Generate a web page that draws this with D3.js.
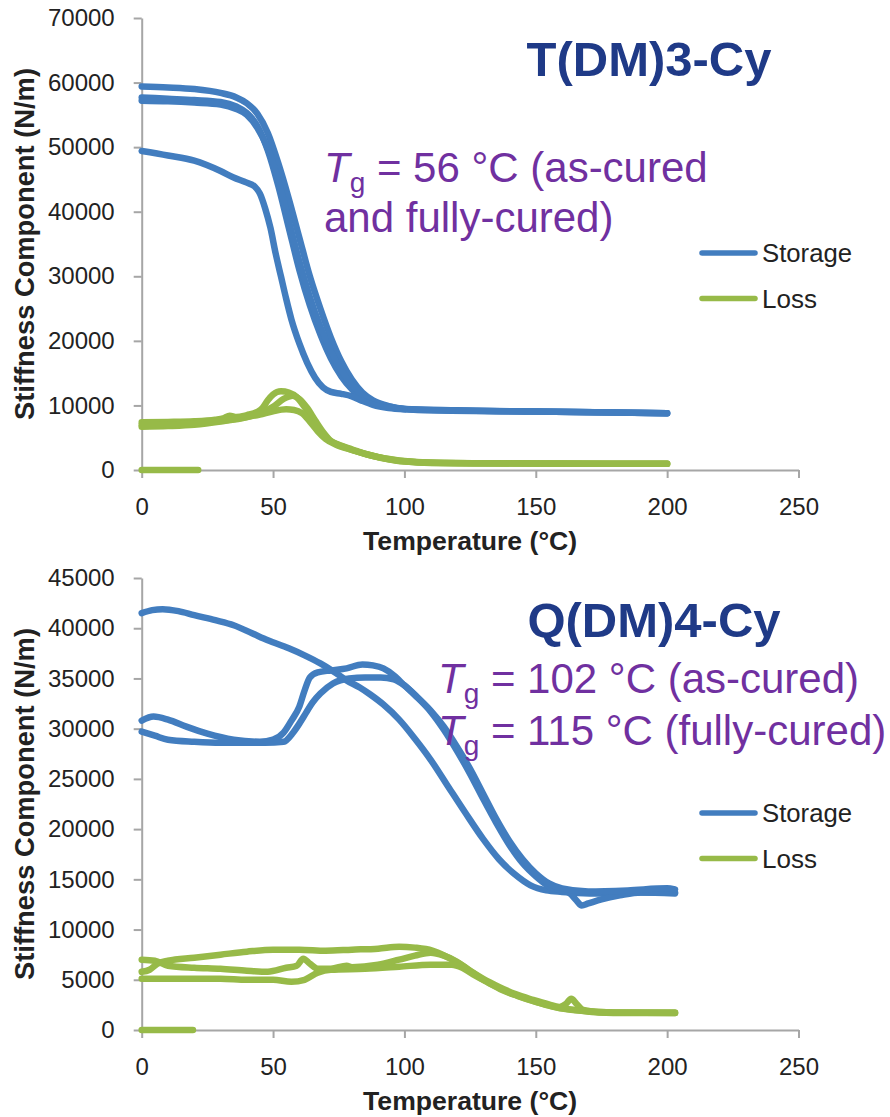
<!DOCTYPE html>
<html>
<head>
<meta charset="utf-8">
<script src="https://cdn.jsdelivr.net/npm/d3@7"></script>
<style>
  html, body { margin: 0; padding: 0; background: #fff; }
  svg { display: block; font-family: "Liberation Sans", Arial, sans-serif; }
</style>
</head>
<body>
<svg id="chart" width="890" height="1117"></svg>
<script>
// ---- Data -------------------------------------------------------------
// Temperature axis (°C) shared by both panels
const tempTicks = [0, 50, 100, 150, 200, 250];

// T(DM)3-Cy panel
const tdm3Ticks = [0, 10000, 20000, 30000, 40000, 50000, 60000, 70000];
const tdm3Storage = [
  [[0,59400],[10,59250],[20,59000],[30,58400],[36,57700],[40,56800],[44,55200],[48,52200],[52,47500],[56,42000],[60,36000],[64,30000],[68,25000],[72,20500],[76,16800],[80,14000],[84,12000],[88,10800],[94,9900],[100,9450],[120,9250],[150,9050],[200,8800]],
  [[0,57700],[10,57500],[20,57300],[30,57000],[36,56300],[40,55300],[44,53300],[48,49500],[52,44000],[56,37500],[60,31000],[64,25500],[68,21000],[72,17300],[76,14500],[80,12500],[85,10800],[90,10000],[96,9600],[105,9300],[150,9050],[200,8800]],
  [[0,57200],[10,57100],[20,56900],[30,56600],[36,55900],[40,55000],[44,53000],[48,49800],[52,44800],[56,38600],[60,32300],[64,26800],[68,22200],[72,18400],[76,15400],[80,13200],[85,11300],[90,10300],[96,9700],[105,9350],[150,9050],[200,8800]],
  [[0,49400],[10,48700],[20,47900],[30,46300],[35,45300],[40,44500],[43,43900],[45,42800],[47,40500],[49,37500],[51,33500],[53,30000],[55,26500],[57,23300],[60,19600],[63,16600],[66,14300],[69,12800],[72,12100],[76,11800],[80,11400],[84,10700],[88,10100],[94,9600],[100,9400]]
];
const tdm3Loss = [
  [[0,7400],[10,7450],[20,7550],[28,7800],[31,8000],[33.5,8400],[36,8200],[40,8500],[44,9000],[46,9600],[48,10800],[50,11700],[53,12200],[56,12000],[59,11300],[61,10300],[65,8000],[68,6200],[71.5,4600],[75,3900],[80,3200],[85,2500],[90,2000],[96,1600],[100,1400],[109,1150],[130,1050],[160,1000],[200,950]],
  [[0,6700],[10,6800],[20,7000],[30,7500],[40,8200],[45,8800],[50,9800],[54,11000],[57.5,11500],[60,11000],[63,9600],[66,7700],[69,5900],[72,4500],[76,3700],[80,3100],[85,2500],[90,2000],[96,1550],[100,1350],[110,1100],[150,1000],[200,950]],
  [[0,7000],[10,7050],[20,7200],[30,7600],[40,8200],[45,8600],[50,9100],[55,9400],[58,9300],[61,8800],[64,7500],[67,6000],[70,4800],[74,3900],[80,3100],[86,2400],[92,1800],[100,1300],[120,1050],[200,950]],
  [[0,0],[21.5,0]]
];

// Q(DM)4-Cy panel
const qdm4Ticks = [0, 5000, 10000, 15000, 20000, 25000, 30000, 35000, 40000, 45000];
const qdm4Storage = [
  [[0,41500],[4,41800],[8,41900],[14,41700],[20,41300],[28,40800],[35,40300],[42,39500],[48,38800],[56,38000],[62,37300],[68,36500],[73,35700],[78,34800],[83,34100],[87,33400],[92,32400],[98,30900],[104,29000],[110,26900],[116,24500],[123,21700],[130,19000],[136,17000],[142,15500],[148,14400],[154,13900],[160,13750],[166,13650],[175,13600],[190,13700],[203,13600]],
  [[0,30800],[4.5,31200],[10,30900],[17,30200],[25,29500],[35,28900],[45,28700],[50,28900],[54,29600],[57,30800],[60,32200],[62,33800],[64,35100],[67,35600],[72,35800],[78,36000],[84,36400],[88,36300],[92,36000],[96,35300],[100,34300],[105,33100],[110,31700],[115,29900],[120,27800],[125,25500],[130,23000],[135,20600],[140,18400],[145,16600],[150,15300],[155,14300],[160,13900],[163,13600],[165.5,12900],[167.5,12400],[170,12600],[175,13000],[182,13400],[190,13700],[203,13700]],
  [[0,29700],[5,29300],[10,28900],[20,28700],[30,28600],[40,28600],[47,28600],[54,28700],[57.6,29600],[60,30500],[62.6,31600],[65,32600],[68,33500],[72.8,34500],[79,35000],[85,35100],[91,35100],[96,34900],[100,34300],[105,33100],[110,31800],[115,30200],[120,28200],[125,26000],[130,23500],[135,21000],[140,18800],[145,17000],[150,15600],[155,14600],[160,14100],[170,13800],[185,13900],[200,14100],[203,14000]]
];
const qdm4Loss = [
  [[0,5800],[3,6000],[6,6600],[10,6900],[20,7200],[30,7500],[40,7800],[50,8000],[60,8000],[70,7900],[80,8000],[90,8100],[98,8300],[104,8200],[110.6,7900],[116,7300],[121,6600],[126,5700],[130,5000],[136,4200],[142,3500],[149,2900],[155,2450],[160,2150],[165,2000],[174,1750],[185,1700],[203,1700]],
  [[0,7000],[5,6900],[10,6400],[20,6200],[30,6100],[40,5900],[48,5800],[55,6200],[59,6400],[61.5,7100],[64,6600],[67,6100],[72,6100],[78,6400],[80,6250],[90,6500],[98,7000],[104,7400],[110,7700],[115,7400],[120,6800],[125,5900],[130,5100],[136,4300],[142,3600],[149,3000],[155,2550],[159,2300],[161.5,2600],[163.5,3100],[165.5,2600],[168,2000],[174,1800],[185,1750],[203,1750]],
  [[0,5100],[10,5100],[20,5100],[30,5100],[40,5000],[50,5000],[57,4800],[62,5000],[67,5700],[72,6000],[85,6100],[98,6300],[110,6500],[118,6500],[122,6200],[127,5400],[132,4700],[137,4000],[143,3400],[150,2800],[156,2350],[162,2050],[170,1850],[180,1750],[203,1700]],
  [[0,0],[19.5,0]]
];

const seriesNames = ["Storage", "Loss"];

// ---- Styling ----------------------------------------------------------
const BLUE = "#427DBF", GREEN = "#97BA48";
const AXIS = "#A6A6A6", TEXT = "#222222";
const TITLE = "#1F3A87", NOTE = "#7030A0";
const legendWidths = [90, 55];

const svg = d3.select("#chart");
const x = d3.scaleLinear().domain([0, 250]).range([141.7, 798.5]);

const panels = [
  {
    title: "T(DM)3-Cy", titleX: 649, titleY: 76,
    yMax: 70000, yTop: 18, yBottom: 470, yTicks: tdm3Ticks,
    storage: tdm3Storage, loss: tdm3Loss,
    notes: [
      { x: 324, y: 182, parts: [["T","i"],["g","sub"],[" = 56 °C (as-cured",""]] },
      { x: 324, y: 232, parts: [["and fully-cured)",""]] }
    ],
    legendY: 253
  },
  {
    title: "Q(DM)4-Cy", titleX: 654, titleY: 637,
    yMax: 45000, yTop: 578, yBottom: 1030, yTicks: qdm4Ticks,
    storage: qdm4Storage, loss: qdm4Loss,
    notes: [
      { x: 438, y: 693, parts: [["T","i"],["g","sub"],[" = 102 °C (as-cured)",""]] },
      { x: 438, y: 745, parts: [["T","i"],["g","sub"],[" = 115 °C (fully-cured)",""]] }
    ],
    legendY: 813
  }
];

panels.forEach(p => {
  const y = d3.scaleLinear().domain([0, p.yMax]).range([p.yBottom, p.yTop]);
  const g = svg.append("g");

  // Axes
  const yAxis = d3.axisLeft(y).tickValues(p.yTicks).tickSize(8).tickSizeOuter(0)
    .tickPadding(19).tickFormat(d3.format("d"));
  const xAxis = d3.axisBottom(x).tickValues(tempTicks).tickSize(8).tickSizeOuter(0)
    .tickPadding(20).tickFormat(d3.format("d"));

  const ya = g.append("g").attr("transform", `translate(${x(0)},0)`).call(yAxis);
  const xa = g.append("g").attr("transform", `translate(0,${p.yBottom})`).call(xAxis);
  [ya, xa].forEach(a => {
    a.select(".domain").attr("stroke", AXIS).attr("stroke-width", 2);
    a.selectAll(".tick line").attr("stroke", AXIS).attr("stroke-width", 2);
    a.selectAll(".tick text").attr("fill", TEXT)
      .style("font-size", "24px").style("font-family", "'Liberation Sans', Arial, sans-serif");
  });

  // Axis titles
  g.append("text")
    .attr("x", (x(0) + x(250)) / 2).attr("y", p.yBottom + 80)
    .attr("text-anchor", "middle").attr("fill", TEXT)
    .attr("textLength", 214).attr("lengthAdjust", "spacingAndGlyphs")
    .style("font-size", "26px").style("font-weight", "bold")
    .text("Temperature (°C)");
  g.append("text")
    .attr("transform", `translate(34,${(p.yTop + p.yBottom) / 2}) rotate(-90)`)
    .attr("text-anchor", "middle").attr("fill", TEXT)
    .attr("textLength", 352).attr("lengthAdjust", "spacingAndGlyphs")
    .style("font-size", "27px").style("font-weight", "bold")
    .text("Stiffness Component (N/m)");

  // Curves
  const line = d3.line().x(d => x(d[0])).y(d => y(d[1])).curve(d3.curveMonotoneX);
  const drawSet = (sets, color) => g.append("g").selectAll("path").data(sets).join("path")
    .attr("d", line).attr("fill", "none").attr("stroke", color)
    .attr("stroke-width", 6.5).attr("stroke-linecap", "round").attr("stroke-linejoin", "round");
  drawSet(p.storage, BLUE);
  drawSet(p.loss, GREEN);

  // Panel title
  g.append("text").attr("x", p.titleX).attr("y", p.titleY)
    .attr("text-anchor", "middle").attr("fill", TITLE)
    .style("font-size", "49px").style("font-weight", "bold")
    .text(p.title);

  // Glass-transition notes
  p.notes.forEach(n => {
    const t = g.append("text").attr("x", n.x).attr("y", n.y).attr("fill", NOTE)
      .style("font-size", "42px");
    n.parts.forEach(([s, kind]) => {
      const ts = t.append("tspan").text(s);
      if (kind === "i") ts.style("font-style", "italic");
      if (kind === "sub") ts.attr("dy", 10).style("font-size", "28px");
      if (kind === "" && n.parts.length > 1) ts.attr("dy", -10);
    });
  });

  // Legend
  const lg = g.append("g");
  seriesNames.forEach((name, i) => {
    const ly = p.legendY + i * 45.5;
    lg.append("line").attr("x1", 702).attr("x2", 755).attr("y1", ly).attr("y2", ly)
      .attr("stroke", i === 0 ? BLUE : GREEN).attr("stroke-width", 5.5)
      .attr("stroke-linecap", "round");
    lg.append("text").attr("x", 762).attr("y", ly + 9).attr("fill", TEXT)
      .attr("textLength", legendWidths[i]).attr("lengthAdjust", "spacingAndGlyphs")
      .style("font-size", "25px").text(name);
  });
});
</script>
</body>
</html>
